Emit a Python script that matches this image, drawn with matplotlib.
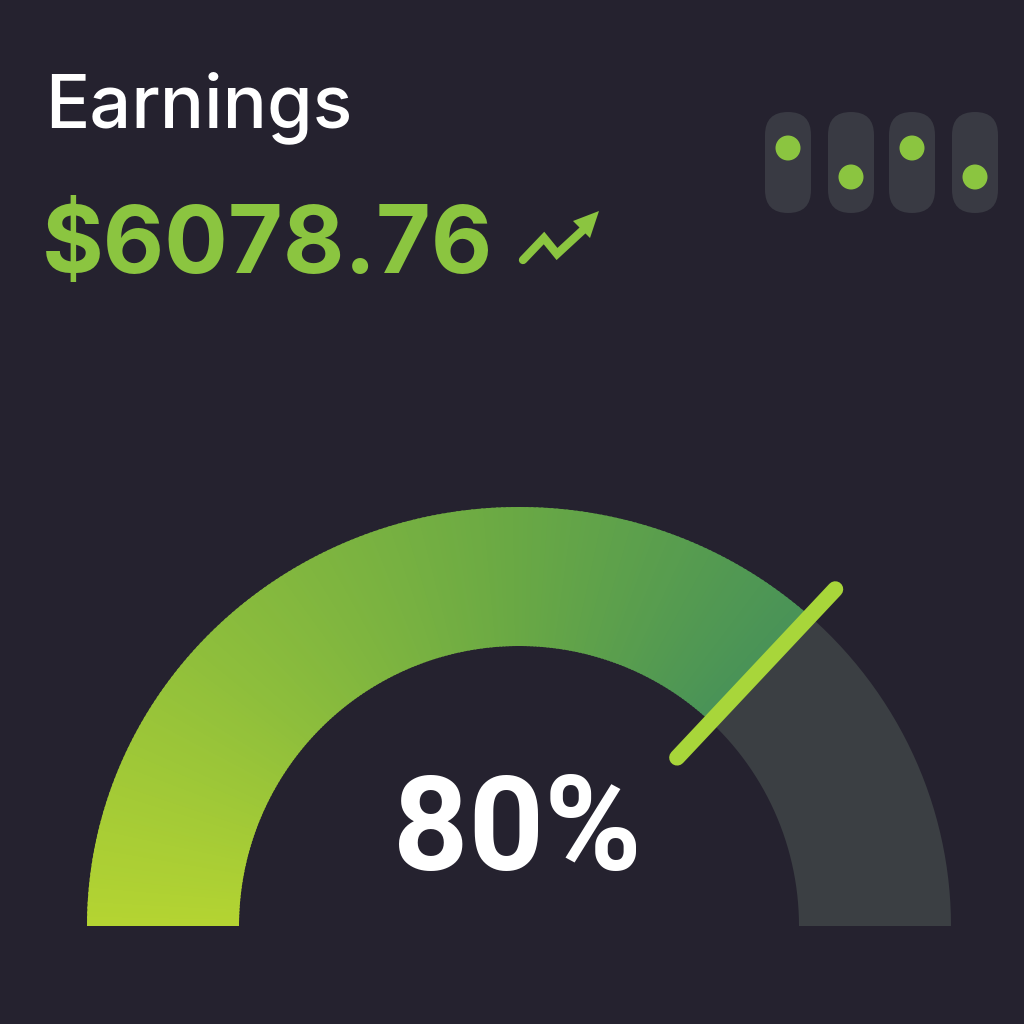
import numpy as np
import matplotlib.pyplot as plt
from matplotlib.patches import FancyBboxPatch, Circle, Polygon
from matplotlib.colors import LinearSegmentedColormap

# data
title = "Earnings"
earnings = 6078.76
label_pct = 80        # number printed in the middle
fill_pct = 74         # where the coloured arc / needle actually sits
toggle_states = [1, 0, 1, 0]   # 1 = dot up, 0 = dot down

bg = "#25222f"
green = "#8bc540"
track = "#3b3f43"
needle_col = "#a8d63a"
grad = LinearSegmentedColormap.from_list(
    "g", ["#b4d432", "#8cbd3c", "#6aa944", "#489258"])

fig = plt.figure(figsize=(10.24, 10.24), dpi=100, facecolor=bg)
ax = fig.add_axes([0, 0, 1, 1])
ax.set_xlim(0, 1024)
ax.set_ylim(0, 1024)
ax.set_aspect("equal")
ax.axis("off")
ax.set_facecolor(bg)

# gauge (outer edge is a little flatter than the inner one)
cx, cy = 519, 98
a_out, b_out, r_in = 432, 419, 280
split = 180 - 180 * fill_pct / 100


def band(t0, t1, color):
    tt = np.radians(np.linspace(t0, t1, 30))
    outer = np.c_[cx + a_out * np.cos(tt), cy + b_out * np.sin(tt)]
    inner = np.c_[cx + r_in * np.cos(tt), cy + r_in * np.sin(tt)][::-1]
    ax.add_patch(Polygon(np.vstack([outer, inner]), closed=True,
                         facecolor=color, edgecolor="none"))


band(0, split, track)
n = 200
angs = np.linspace(split, 180, n + 1)
for i in range(n):
    band(angs[i], min(angs[i + 1] + 0.3, 180), grad(1 - (i + 0.5) / n))

t = np.radians(split)
ax.plot([cx + 231 * np.cos(t), cx + 462 * np.cos(t)],
        [cy + 231 * np.sin(t), cy + 462 * np.sin(t)],
        color=needle_col, lw=11.5, solid_capstyle="round", zorder=5)

ax.text(517, 1024 - 870, f"{label_pct}%", color="white", fontsize=95,
        fontweight="bold", family="Roboto", ha="center", va="baseline")

# header
ax.text(45, 1024 - 127, title, color="white", fontsize=53,
        fontweight="medium", family="Inter", ha="left", va="baseline")
ax.text(42, 1024 - 273, f"${earnings:.2f}", color=green, fontsize=68,
        fontweight="bold", family="Inter", ha="left", va="baseline")

# trend arrow icon
ax.plot([523, 544, 557, 583], [1024 - 260, 1024 - 238, 1024 - 254, 1024 - 230],
        color=green, lw=6, solid_capstyle="round", solid_joinstyle="miter")
ax.add_patch(Polygon([[573, 1024 - 221], [599, 1024 - 211], [590, 1024 - 238]],
                     closed=True, facecolor=green, edgecolor="none"))

# toggles
pill_x = [765, 828, 889, 952]
for x0, s in zip(pill_x, toggle_states):
    ax.add_patch(FancyBboxPatch((x0, 1024 - 213), 46, 101,
                                boxstyle="round,pad=0,rounding_size=23",
                                facecolor="#393a43", edgecolor="none"))
    dy = 148 if s else 177
    ax.add_patch(Circle((x0 + 23, 1024 - dy), 12.5, facecolor=green,
                        edgecolor="none"))

fig.savefig("out.png", dpi=100, facecolor=bg)
